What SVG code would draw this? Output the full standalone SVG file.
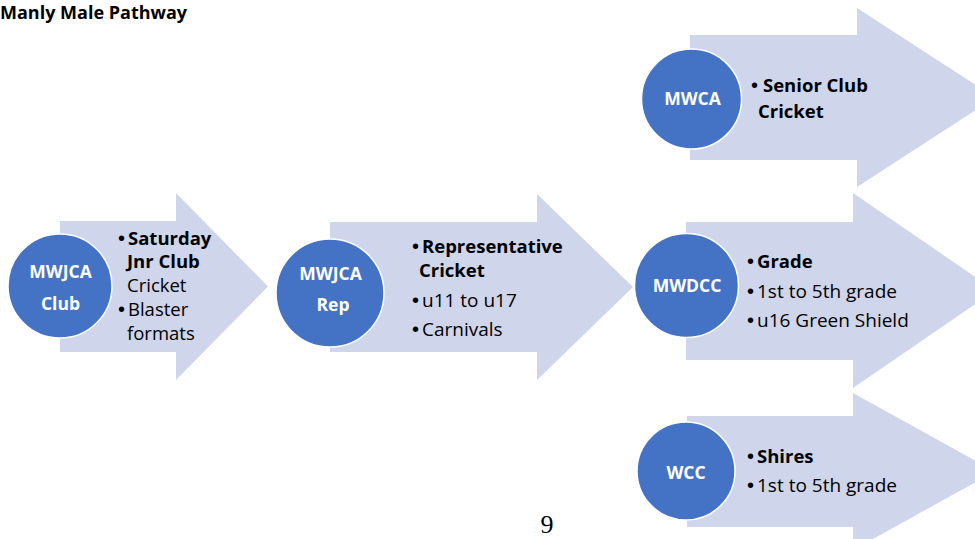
<svg xmlns="http://www.w3.org/2000/svg" width="975" height="539" viewBox="0 0 975 539">
<style>
.arrow{fill:#CFD5EA;}
.circ{fill:#4472C4;stroke:#FFFFFF;stroke-width:1.5;}
.ct{font-family:"Open Sans","Liberation Sans",sans-serif;font-weight:bold;font-size:17.5px;fill:#FFFFFF;text-anchor:middle;}
.t{font-family:"Open Sans","Liberation Sans",sans-serif;font-size:19px;fill:#000000;}
.t2{font-family:"Open Sans","Liberation Sans",sans-serif;font-size:18.5px;fill:#000000;}
.b{font-weight:bold;font-size:18.5px;}
.bu{font-family:"Liberation Sans",sans-serif;font-size:20px;font-weight:normal;}
.title{font-family:"Open Sans","Liberation Sans",sans-serif;font-weight:bold;font-size:18px;fill:#000000;}
.pg{font-family:"Liberation Serif",serif;font-size:26px;fill:#000000;}
</style>
<rect width="975" height="539" fill="#FFFFFF"/>
<text class="title" x="0" y="19">Manly Male Pathway</text>
<g id="connectors"></g>
<g id="mwjca-club">
<polygon class="arrow" points="60,221 176,221 176,193 268,286.5 176,380 176,352 60,352"/>
<circle class="circ" cx="60" cy="286" r="52"/>
<text class="ct" x="60.5" y="278">MWJCA</text>
<text class="ct" x="60.5" y="310">Club</text>
<text class="t" x="118" y="245"><tspan class="bu">•</tspan><tspan class="b" x="128">Saturday</tspan></text>
<text class="t b" x="127" y="268">Jnr Club</text>
<text class="t2" x="127" y="292">Cricket</text>
<text class="t2" x="118" y="316"><tspan class="bu">•</tspan><tspan x="128">Blaster</tspan></text>
<text class="t2" x="127" y="340">formats</text>
</g>
<g id="mwjca-rep">
<polygon class="arrow" points="330,222 537,222 537,194 633,287 537,380 537,352 330,352"/>
<circle class="circ" cx="330" cy="293" r="54"/>
<text class="ct" x="330.5" y="280">MWJCA</text>
<text class="ct" x="333" y="311">Rep</text>
<text class="t" x="412" y="253"><tspan class="bu">•</tspan><tspan class="b" x="422">Representative</tspan></text>
<text class="t b" x="419" y="277">Cricket</text>
<text class="t" x="412" y="307"><tspan class="bu">•</tspan><tspan x="422">u11 to u17</tspan></text>
<text class="t" x="412" y="336"><tspan class="bu">•</tspan><tspan x="422">Carnivals</tspan></text>
</g>
<g id="mwca">
<polygon class="arrow" points="690,35 857,35 857,8 995,97.5 857,187 857,160 690,160"/>
<circle class="circ" cx="691.5" cy="99" r="50"/>
<text class="ct" x="692.5" y="105">MWCA</text>
<text class="t" x="751" y="92"><tspan class="bu">•</tspan><tspan class="b" x="763">Senior Club</tspan></text>
<text class="t b" x="758" y="118">Cricket</text>
</g>
<g id="mwdcc">
<polygon class="arrow" points="686,222 853,222 853,193 995,290.5 853,388 853,360 686,360"/>
<circle class="circ" cx="686.5" cy="285.5" r="52"/>
<text class="ct" x="687" y="292">MWDCC</text>
<text class="t" x="747" y="268"><tspan class="bu">•</tspan><tspan class="b" x="757">Grade</tspan></text>
<text class="t" x="747" y="298"><tspan class="bu">•</tspan><tspan x="757">1st to 5th grade</tspan></text>
<text class="t" x="747" y="327"><tspan class="bu">•</tspan><tspan x="757">u16 Green Shield</tspan></text>
</g>
<g id="wcc">
<polygon class="arrow" points="687,416 853,416 853,393 995,471.5 853,550 853,527 687,527"/>
<circle class="circ" cx="686" cy="471" r="49"/>
<text class="ct" x="686" y="479">WCC</text>
<text class="t" x="747" y="463"><tspan class="bu">•</tspan><tspan class="b" x="757">Shires</tspan></text>
<text class="t" x="747" y="492"><tspan class="bu">•</tspan><tspan x="757">1st to 5th grade</tspan></text>
</g>
<text class="pg" x="547" y="533" text-anchor="middle">9</text>
</svg>
